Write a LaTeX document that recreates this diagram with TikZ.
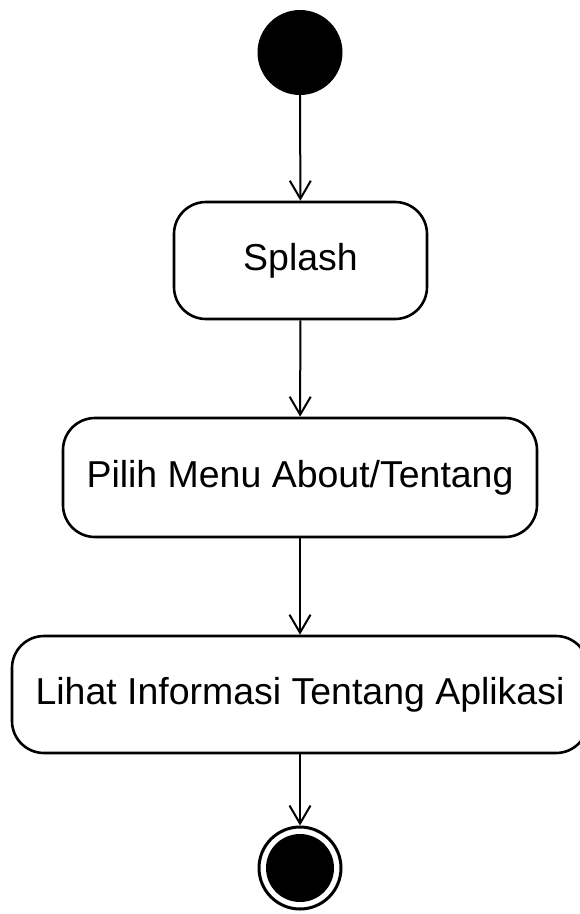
\documentclass[tikz,border=0pt]{standalone}
\usepackage{fontspec}
\setmainfont{Liberation Sans}
\usetikzlibrary{arrows.meta}
\begin{document}
\begin{tikzpicture}[x=1bp,y=-1bp,
  action/.style={draw, line width=2.6bp, rounded corners=32bp, inner sep=0pt,
    font=\fontsize{37.6}{42}\selectfont},
  flow/.style={line width=2bp,
    -{Straight Barb[length=18bp,width=21bp,line width=2bp]}},
  startdot/.style={circle, fill=black, inner sep=0pt, minimum size=85bp},
  endring/.style={circle, draw, line width=3bp, inner sep=0pt, minimum size=82bp},
  enddot/.style={circle, fill=black, inner sep=0pt, minimum size=68bp}]
\useasboundingbox (0,0) rectangle (580,914);

\node[startdot] (start) at (300,52.5) {};
\node[action, minimum width=253bp, minimum height=117bp] (splash) at (300.5,260.5) {Splash};
\node[action, minimum width=474bp, minimum height=119bp] (menu) at (300,477.5) {Pilih Menu About/Tentang};
\node[action, minimum width=576bp, minimum height=117bp] (info) at (300,694.5) {Lihat Informasi Tentang Aplikasi};
\node[endring] (endo) at (300,868) {};
\node[enddot] (endi) at (300,868) {};

\draw[flow] (start) -- (splash);
\draw[flow] (splash) -- (menu);
\draw[flow] (menu) -- (info);
\draw[flow] (info) -- (endo);
\end{tikzpicture}
\end{document}
